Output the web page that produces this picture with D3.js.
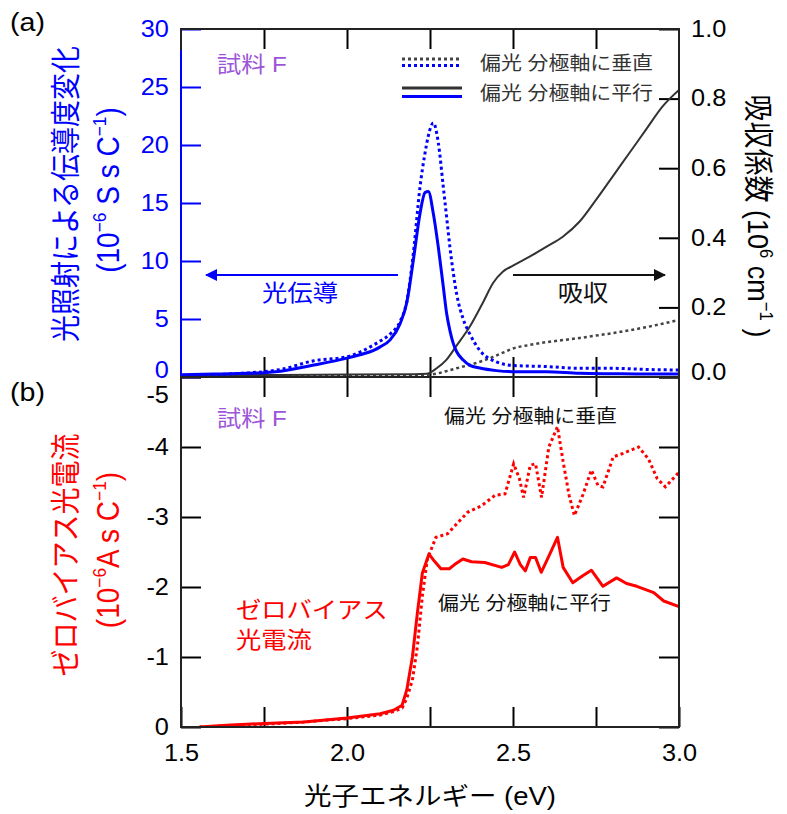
<!DOCTYPE html>
<html>
<head>
<meta charset="utf-8">
<script src="https://cdn.jsdelivr.net/npm/d3@7"></script>
<style>
  body { margin: 0; background: #fff; }
  svg { font-family: "Liberation Sans", Arial, "Noto Sans CJK JP", sans-serif; }
</style>
</head>
<body>
<script>
// photoconductivity change (10^-6 S s C^-1)
const pcEnergy = [1.5, 1.6, 1.7, 1.75, 1.8, 1.9, 2.0, 2.05, 2.08, 2.1, 2.13, 2.16, 2.18, 2.2, 2.22, 2.235, 2.245, 2.26, 2.275, 2.29, 2.3, 2.31, 2.32, 2.33, 2.35, 2.37, 2.4, 2.45, 2.5, 2.6, 2.7, 2.8, 2.9, 3.0];
const pcPerp = [0.1, 0.2, 0.35, 0.46, 0.65, 1.4, 1.75, 2.3, 2.76, 3.1, 3.7, 4.8, 6.5, 10.7, 16.4, 19.3, 20.8, 21.9, 20.2, 16.4, 13.8, 11.2, 9.0, 7.2, 5.0, 3.7, 2.3, 1.3, 1.0, 0.9, 0.75, 0.75, 0.65, 0.6];
const pcPara = [0.2, 0.25, 0.32, 0.37, 0.5, 1.03, 1.63, 2.0, 2.3, 2.6, 3.2, 4.6, 6.4, 10.1, 14.1, 15.9, 16.0, 14.1, 11.2, 7.8, 5.5, 4.0, 2.9, 2.2, 1.46, 1.0, 0.77, 0.55, 0.46, 0.46, 0.32, 0.28, 0.25, 0.25];

// absorption coefficient (10^6 cm^-1)
const absEnergy = [1.5, 1.8, 2.0, 2.2, 2.24, 2.27, 2.3, 2.33, 2.37, 2.41, 2.44, 2.47, 2.5, 2.55, 2.6, 2.65, 2.7, 2.75, 2.8, 2.85, 2.9, 2.95, 3.0];
const absPara = [0.005, 0.006, 0.007, 0.008, 0.009, 0.025, 0.05, 0.09, 0.145, 0.215, 0.27, 0.303, 0.32, 0.346, 0.374, 0.403, 0.446, 0.509, 0.576, 0.643, 0.71, 0.777, 0.825];
const absPerp = [0.004, 0.004, 0.004, 0.005, 0.006, 0.01, 0.017, 0.025, 0.035, 0.047, 0.058, 0.07, 0.082, 0.092, 0.1, 0.106, 0.112, 0.119, 0.126, 0.134, 0.143, 0.153, 0.164];

// zero-bias photocurrent (10^-6 A s C^-1), panel (b)
const zbParaEnergy = [1.556, 1.65, 1.75, 1.87, 2.0, 2.1, 2.14, 2.166, 2.18, 2.197, 2.212, 2.227, 2.247, 2.263, 2.283, 2.308, 2.324, 2.349, 2.375, 2.415, 2.466, 2.486, 2.505, 2.522, 2.537, 2.552, 2.568, 2.585, 2.608, 2.634, 2.651, 2.68, 2.71, 2.736, 2.771, 2.812, 2.842, 2.873, 2.924, 2.954, 3.0];
const zbPara = [0, -0.03, -0.05, -0.07, -0.13, -0.19, -0.24, -0.31, -0.53, -1.0, -1.63, -2.2, -2.47, -2.37, -2.26, -2.26, -2.32, -2.4, -2.36, -2.35, -2.28, -2.32, -2.5, -2.32, -2.23, -2.42, -2.42, -2.21, -2.44, -2.71, -2.28, -2.06, -2.16, -2.24, -2.01, -2.13, -2.05, -2.01, -1.92, -1.8, -1.72];
const zbPerpEnergy = [1.556, 1.65, 1.75, 1.87, 2.0, 2.1, 2.14, 2.166, 2.18, 2.197, 2.212, 2.227, 2.242, 2.268, 2.303, 2.334, 2.364, 2.405, 2.446, 2.476, 2.502, 2.519, 2.532, 2.552, 2.568, 2.586, 2.608, 2.634, 2.651, 2.669, 2.685, 2.71, 2.736, 2.756, 2.771, 2.802, 2.832, 2.878, 2.908, 2.934, 2.959, 3.0];
const zbPerp = [0, -0.02, -0.04, -0.07, -0.12, -0.17, -0.22, -0.27, -0.41, -0.67, -1.15, -1.87, -2.4, -2.71, -2.76, -2.92, -3.07, -3.16, -3.31, -3.33, -3.76, -3.55, -3.28, -3.74, -3.76, -3.28, -4.0, -4.29, -3.79, -3.31, -3.02, -3.31, -3.67, -3.45, -3.43, -3.86, -3.91, -4.0, -3.83, -3.55, -3.43, -3.64];

const energyTicks = [1.5, 1.75, 2.0, 2.25, 2.5, 2.75, 3.0];
const pcTicks = [0, 5, 10, 15, 20, 25, 30];
const absTicks = [0, 0.2, 0.4, 0.6, 0.8, 1.0];
const zbTicks = [0, -1, -2, -3, -4, -5];

const width = 787, height = 814;
const left = 181, right = 679, topA = 29, midY = 377, bottomB = 727;
const SX = 1.1; // the figure is slightly stretched sideways
const BLUE = "#0000ff", RED = "#ff0000", DARK = "#333", PURPLE = "#9c55d8";

const svg = d3.select("body").append("svg")
    .attr("width", width)
    .attr("height", height);

const x = d3.scaleLinear().domain([1.5, 3.0]).range([left, right]);
const yPc = d3.scaleLinear().domain([0, 30]).range([midY, topA]);
const yAbs = d3.scaleLinear().domain([0, 1]).range([midY, topA]);
const yZb = d3.scaleLinear().domain([0, -5]).range([bottomB, midY]);

svg.append("clipPath").attr("id", "clipA")
    .append("rect").attr("x", left).attr("y", topA).attr("width", right - left).attr("height", midY - topA);
svg.append("clipPath").attr("id", "clipB")
    .append("rect").attr("x", left).attr("y", midY).attr("width", right - left).attr("height", bottomB - midY);

// text with optional superscripts, centred vertically on y
function label(g, px, py, parts, o) {
    const t = g.append("text")
        .attr("transform", `translate(${px},${py}) scale(${o.sx || SX},1)` + (o.rot ? ` rotate(${o.rot})` : ""))
        .attr("y", o.size * 0.35)
        .attr("font-size", o.size)
        .attr("fill", o.color || "#000")
        .attr("text-anchor", o.anchor || "start");
    let up = 0;
    parts.forEach(p => {
        const s = t.append("tspan");
        if (typeof p === "string") {
            s.text(p);
            if (up) { s.attr("dy", up); up = 0; }
        } else {
            up = o.size * 0.42;
            s.text(p.sup).attr("font-size", o.size * 0.62).attr("dy", -up);
        }
    });
    return t;
}

function styleAxis(g, color, hideText) {
    g.attr("font-family", null).attr("font-size", 23);
    g.select(".domain").remove();
    g.selectAll(".tick line").attr("stroke", color).attr("stroke-width", 2);
    g.selectAll(".tick text").attr("fill", color).attr("transform", `scale(${SX},1)`);
    if (hideText) g.selectAll(".tick text").remove();
}

const fmtNeg = d => d === 0 ? "0" : "-" + Math.abs(d);
const inner = energyTicks.slice(1, -1);

/* ------- PANEL (a) ------- */

const axA = svg.append("g");
axA.append("g").attr("transform", `translate(${left},0)`)
    .call(d3.axisLeft(yPc).tickValues(pcTicks).tickSize(-20).tickPadding(11))
    .call(g => styleAxis(g, BLUE))
    .call(g => g.selectAll(".tick text").filter(d => d === 0).attr("dy", "0.02em"));
axA.append("g").attr("transform", `translate(${right},0)`)
    .call(d3.axisRight(yAbs).tickValues(absTicks).tickSize(-20).tickPadding(11).tickFormat(d3.format(".1f")))
    .call(g => styleAxis(g, "#000"))
    .call(g => g.selectAll(".tick text").filter(d => d === 0).attr("dy", "0.1em"));
axA.append("g").attr("transform", `translate(0,${topA})`)
    .call(d3.axisTop(x).tickValues(inner).tickSize(-20))
    .call(g => styleAxis(g, "#000", true));
axA.append("g").attr("transform", `translate(0,${midY})`)
    .call(d3.axisBottom(x).tickValues(inner).tickSize(-20))
    .call(g => styleAxis(g, "#000", true));

const plotA = svg.append("g").attr("clip-path", "url(#clipA)");

const absLine = vals => d3.line().x((d, i) => x(absEnergy[i])).y(d => yAbs(d)).curve(d3.curveMonotoneX)(vals);
const pcLine = vals => d3.line().x((d, i) => x(pcEnergy[i])).y(d => yPc(d)).curve(d3.curveMonotoneX)(vals);

plotA.append("path").attr("d", absLine(absPerp))
    .attr("fill", "none").attr("stroke", "#444").attr("stroke-width", 2.5).attr("stroke-dasharray", "3,3");
plotA.append("path").attr("d", absLine(absPara))
    .attr("fill", "none").attr("stroke", DARK).attr("stroke-width", 2);
plotA.append("path").attr("d", pcLine(pcPerp))
    .attr("fill", "none").attr("stroke", BLUE).attr("stroke-width", 3).attr("stroke-dasharray", "3,3");
plotA.append("path").attr("d", pcLine(pcPara))
    .attr("fill", "none").attr("stroke", BLUE).attr("stroke-width", 3);

// frame, left axis in blue
svg.append("rect").attr("x", left).attr("y", topA).attr("width", right - left).attr("height", midY - topA)
    .attr("fill", "none").attr("stroke", "#222").attr("stroke-width", 2);
svg.append("line").attr("x1", left).attr("x2", left).attr("y1", yPc(0)).attr("y2", yPc(28.2))
    .attr("stroke", BLUE).attr("stroke-width", 2);

// legend
const leg = svg.append("g");
[[59, "#444", "3,3"], [65.5, BLUE, "3,3"], [88, DARK, null], [96.5, BLUE, null]].forEach(([ly, c, dash]) => {
    leg.append("line").attr("x1", 402).attr("x2", 462).attr("y1", ly).attr("y2", ly)
        .attr("stroke", c).attr("stroke-width", 3).attr("stroke-dasharray", dash);
});
label(leg, 480, 63, ["偏光 分極軸に垂直"], { size: 19, color: DARK });
label(leg, 480, 93, ["偏光 分極軸に平行"], { size: 19, color: DARK });
label(svg, 217, 64, ["試料 F"], { size: 22, color: PURPLE });

// arrows
const defs = svg.append("defs");
[["headBlue", BLUE], ["headDark", "#111"]].forEach(([id, c]) => {
    defs.append("marker").attr("id", id).attr("viewBox", "0 0 12 12")
        .attr("refX", 11).attr("refY", 6).attr("markerWidth", 12).attr("markerHeight", 12)
        .attr("markerUnits", "userSpaceOnUse").attr("orient", "auto")
        .append("path").attr("d", "M0,0L12,6L0,12Z").attr("fill", c);
});
svg.append("line").attr("x1", 398).attr("x2", 206).attr("y1", 275).attr("y2", 275)
    .attr("stroke", BLUE).attr("stroke-width", 2).attr("marker-end", "url(#headBlue)");
svg.append("line").attr("x1", 513).attr("x2", 665).attr("y1", 275).attr("y2", 275)
    .attr("stroke", "#111").attr("stroke-width", 2).attr("marker-end", "url(#headDark)");
label(svg, 300, 293, ["光伝導"], { size: 23, color: BLUE, anchor: "middle" });
label(svg, 583, 293, ["吸収"], { size: 23, color: "#111", anchor: "middle" });

// axis titles (a)
label(svg, 66, 194, ["光照射による伝導度変化"], { size: 27, color: BLUE, anchor: "middle", rot: -90 });
label(svg, 108, 190, ["(10", { sup: "−6" }, "  S s C", { sup: "−1" }, ")"], { size: 28, color: BLUE, anchor: "middle", rot: -90 });
label(svg, 758, 216, ["吸収係数 (10", { sup: "6" }, " cm", { sup: "−1" }, " )"], { size: 27, color: "#000", anchor: "middle", rot: 90 });
label(svg, 10, 22, ["(a)"], { size: 26 });

/* ------- PANEL (b) ------- */

const axB = svg.append("g");
axB.append("g").attr("transform", `translate(${left},0)`)
    .call(d3.axisLeft(yZb).tickValues(zbTicks).tickSize(-20).tickPadding(11).tickFormat(fmtNeg))
    .call(g => styleAxis(g, "#000"))
    .call(g => g.selectAll(".tick text").filter(d => d === -5).attr("dy", "1.1em"));
axB.append("g").attr("transform", `translate(${right},0)`)
    .call(d3.axisRight(yZb).tickValues(zbTicks).tickSize(-20))
    .call(g => styleAxis(g, "#000", true));
axB.append("g").attr("transform", `translate(0,${midY})`)
    .call(d3.axisTop(x).tickValues(inner).tickSize(-20))
    .call(g => styleAxis(g, "#000", true));
axB.append("g").attr("transform", `translate(0,${bottomB})`)
    .call(d3.axisBottom(x).tickValues(energyTicks).tickSize(-20).tickPadding(18)
        .tickFormat(d => [1.5, 2, 2.5, 3].includes(d) ? d3.format(".1f")(d) : ""))
    .call(g => styleAxis(g, "#000"));

const plotB = svg.append("g").attr("clip-path", "url(#clipB)");
plotB.append("path")
    .attr("d", d3.line().x((d, i) => x(zbPerpEnergy[i])).y(d => yZb(d))(zbPerp))
    .attr("fill", "none").attr("stroke", RED).attr("stroke-width", 3).attr("stroke-dasharray", "3,3");
plotB.append("path")
    .attr("d", d3.line().x((d, i) => x(zbParaEnergy[i])).y(d => yZb(d))(zbPara))
    .attr("fill", "none").attr("stroke", RED).attr("stroke-width", 3).attr("stroke-linejoin", "round");

svg.append("rect").attr("x", left).attr("y", midY).attr("width", right - left).attr("height", bottomB - midY)
    .attr("fill", "none").attr("stroke", "#222").attr("stroke-width", 2);

label(svg, 217, 418, ["試料 F"], { size: 22, color: PURPLE });
label(svg, 444, 416, ["偏光 分極軸に垂直"], { size: 19, color: "#111" });
label(svg, 438, 603, ["偏光 分極軸に平行"], { size: 19, color: "#111" });
label(svg, 236, 610, ["ゼロバイアス"], { size: 23, color: RED });
label(svg, 236, 640, ["光電流"], { size: 23, color: RED });

label(svg, 66, 555, ["ゼロバイアス光電流"], { size: 27, color: RED, anchor: "middle", rot: -90 });
label(svg, 108, 550, ["(10", { sup: "−6" }, "A s C", { sup: "−1" }, ")"], { size: 28, color: RED, anchor: "middle", rot: -90 });
label(svg, 10, 392, ["(b)"], { size: 26 });

label(svg, 430, 796, ["光子エネルギー (eV)"], { size: 25, anchor: "middle" });
</script>
</body>
</html>
